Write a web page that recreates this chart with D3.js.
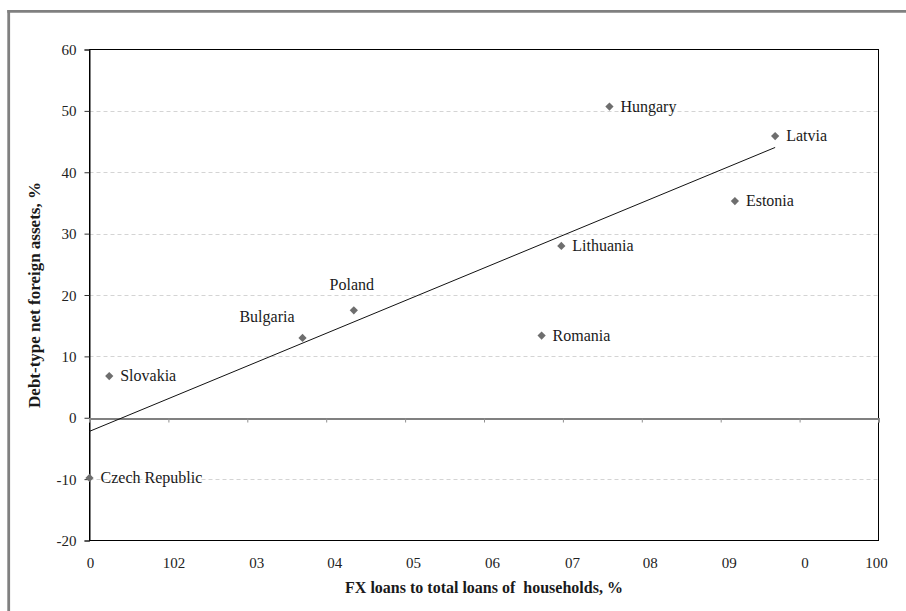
<!DOCTYPE html>
<html>
<head>
<meta charset="utf-8">
<script src="https://cdn.jsdelivr.net/npm/d3@7"></script>
<style>
  html, body { margin: 0; padding: 0; background: #fff; }
  svg { display: block; }
  text { font-family: "Liberation Serif", "Times New Roman", serif; }
</style>
</head>
<body>
<svg id="chart" width="906" height="611"></svg>
<script>
// ---- data ----
const countries = ["Czech Republic", "Slovakia", "Bulgaria", "Poland", "Romania", "Lithuania", "Hungary", "Estonia", "Latvia"];
const fxLoans   = [0, 2.5, 27.0, 33.5, 57.3, 59.8, 65.9, 81.8, 86.9];
const debtNFA   = [-9.8, 6.8, 13.0, 17.5, 13.4, 28.0, 50.7, 35.3, 45.9];
const xTicks = [0, 10, 20, 30, 40, 50, 60, 70, 80, 90, 100];
const xTickLabels = ["0", "102", "03", "04", "05", "06", "07", "08", "09", "0", "100"];
const yTicks = [-20, -10, 0, 10, 20, 30, 40, 50, 60];
const yTickLabels = ["-20", "-10", "0", "10", "20", "30", "40", "50", "60"];
const xTitle = "FX loans to total loans of  households, %";
const yTitle = "Debt-type net foreign assets, %";

// ---- layout ----
const FONT = "Liberation Serif, Times New Roman, serif";
const svg = d3.select("#chart");
const L = 89.5, R = 878.5, T = 49.5, B = 540.5;
const x = d3.scaleLinear().domain([0, 100]).range([L, R]);
const y = d3.scaleLinear().domain([-20, 60]).range([B, T]);

// outer frame (left and top only)
svg.append("line").attr("x1", 8.7).attr("x2", 8.7).attr("y1", 10).attr("y2", 611)
  .attr("stroke", "#808080").attr("stroke-width", 2.8);
svg.append("line").attr("x1", 7.3).attr("x2", 906).attr("y1", 11.4).attr("y2", 11.4)
  .attr("stroke", "#808080").attr("stroke-width", 2.8);

// gridlines
svg.append("g").selectAll("line")
  .data(yTicks.filter(d => d !== 0 && d !== -20 && d !== 60))
  .join("line")
  .attr("x1", L).attr("x2", R)
  .attr("y1", d => Math.round(y(d)) + 0.5).attr("y2", d => Math.round(y(d)) + 0.5)
  .attr("stroke", "#d4d4d4").attr("stroke-width", 1).attr("stroke-dasharray", "4,3");

// plot border
svg.append("rect").attr("x", L).attr("y", T).attr("width", R - L).attr("height", B - T)
  .attr("fill", "none").attr("stroke", "#000").attr("stroke-width", 1);

// y axis
const yAxis = svg.append("g").attr("transform", `translate(${L},0)`)
  .call(d3.axisLeft(y).tickValues(yTicks).tickSize(5).tickPadding(8)
    .tickFormat((d, i) => yTickLabels[i]));
yAxis.attr("font-family", FONT);
yAxis.select(".domain").attr("stroke", "#000");
yAxis.selectAll(".tick line").attr("stroke", "#333");
yAxis.selectAll(".tick text").attr("font-size", 15).attr("fill", "#222")
  .attr("font-family", FONT).attr("dy", "0.34em");

// x axis (zero line with ticks)
const x0 = Math.round(y(0)) + 0.5;
const xAxis = svg.append("g").attr("transform", `translate(0,${x0})`)
  .call(d3.axisBottom(x).tickValues(xTicks).tickSize(4).tickFormat(""));
xAxis.select(".domain").attr("stroke", "#808080").attr("stroke-width", 2);
xAxis.selectAll(".tick line").attr("stroke", "#909090");

// x tick labels at the bottom
const labelShift = [0.5, 5, 9, 8, 8, 8, 9, 8, 8, 5, -2.5];
const xLab = svg.append("g").attr("transform", `translate(0,${B})`)
  .call(d3.axisBottom(x).tickValues(xTicks).tickSize(0).tickPadding(17)
    .tickFormat((d, i) => xTickLabels[i]));
xLab.attr("font-family", FONT);
xLab.select(".domain").remove();
xLab.selectAll(".tick text").attr("font-size", 15).attr("fill", "#222")
  .attr("font-family", FONT)
  .attr("dx", (d, i) => labelShift[i]);

// regression trend line
const n = fxLoans.length;
const mx = d3.mean(fxLoans), my = d3.mean(debtNFA);
let sxy = 0, sxx = 0;
for (let i = 0; i < n; i++) { sxy += (fxLoans[i] - mx) * (debtNFA[i] - my); sxx += (fxLoans[i] - mx) ** 2; }
const slope = sxy / sxx, icpt = my - slope * mx;
const xMin = d3.min(fxLoans), xMax = d3.max(fxLoans);
svg.append("line")
  .attr("x1", x(xMin)).attr("y1", y(icpt + slope * xMin))
  .attr("x2", x(xMax)).attr("y2", y(icpt + slope * xMax))
  .attr("stroke", "#111").attr("stroke-width", 1);

// points
const pts = countries.map((c, i) => ({ name: c, fx: fxLoans[i], nfa: debtNFA[i] }));
const marker = d3.symbol().type(d3.symbolSquare).size(34);
svg.append("g").selectAll("path").data(pts).join("path")
  .attr("d", marker)
  .attr("transform", d => `translate(${x(d.fx)},${y(d.nfa)}) rotate(45)`)
  .attr("fill", "#6e6e6e");

// labels
const place = {
  "Bulgaria": { dx: -8, dy: -16, anchor: "end" },
  "Poland":   { dx: -2, dy: -20, anchor: "middle" }
};
svg.append("g").selectAll("text").data(pts).join("text")
  .attr("x", d => x(d.fx) + (place[d.name] ? place[d.name].dx : 11))
  .attr("y", d => y(d.nfa) + (place[d.name] ? place[d.name].dy : 5))
  .attr("text-anchor", d => place[d.name] ? place[d.name].anchor : "start")
  .attr("font-family", FONT)
  .attr("font-size", 16).attr("fill", "#1a1a1a")
  .text(d => d.name);

// axis titles
svg.append("text")
  .attr("x", (L + R) / 2).attr("y", 593)
  .attr("text-anchor", "middle").attr("font-size", 16).attr("font-weight", "bold")
  .attr("font-family", FONT)
  .attr("fill", "#1a1a1a").style("white-space", "pre")
  .text(xTitle);
svg.append("text")
  .attr("transform", `translate(40,${(T + B) / 2}) rotate(-90)`)
  .attr("text-anchor", "middle").attr("font-size", 17).attr("font-weight", "bold")
  .attr("font-family", FONT)
  .attr("fill", "#1a1a1a")
  .text(yTitle);
</script>
</body>
</html>
